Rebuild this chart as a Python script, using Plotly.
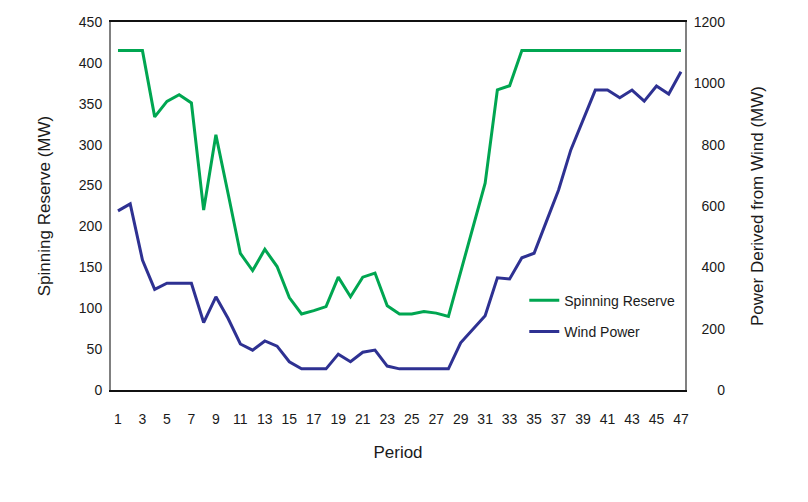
import plotly.graph_objects as go

# Period 1..47
periods = list(range(1, 48))

# Spinning reserve (MW), left axis
spinning_reserve = [
    415, 415, 415, 334, 353, 361, 351, 220, 312, 240,
    167, 146, 172, 151, 113, 93, 97, 102, 138, 114,
    138, 143, 103, 93, 93, 96, 94, 90, 145, 199,
    253, 367, 372, 415, 415, 415, 415, 415, 415, 415,
    415, 415, 415, 415, 415, 415, 415,
]

# Power derived from wind (MW), right axis
wind_power = [
    584, 607, 424, 328, 348, 348, 348, 220, 304, 233,
    150, 130, 160, 143, 92, 69, 69, 69, 117, 92,
    123, 130, 78, 69, 69, 69, 69, 69, 154, 198,
    242, 366, 362, 431, 446, 549, 652, 783, 880, 978,
    978, 953, 978, 942, 991, 965, 1038,
]

left_ticks = list(range(0, 451, 50))
right_ticks = list(range(0, 1201, 200))
period_ticks = list(range(1, 48, 2))

GREEN = '#00a651'
BLUE = '#2e3192'
FONT = 'Liberation Sans, Arial, sans-serif'

# right-align the right-hand labels with figure spaces
width = max(len(str(v)) for v in right_ticks)
right_text = ['\u2007' * (width - len(str(v))) + str(v) for v in right_ticks]

fig = go.Figure()
fig.add_trace(go.Scatter(
    x=periods, y=spinning_reserve, name='Spinning Reserve', mode='lines',
    line=dict(color=GREEN, width=3), legendgroup='a',
))
fig.add_trace(go.Scatter(
    x=periods, y=wind_power, name='Wind Power', mode='lines', yaxis='y2',
    line=dict(color=BLUE, width=3), legendgroup='b',
))

# page body adds an 8px offset, so margins are trimmed on the left/top
fig.update_layout(
    width=808, height=502,
    paper_bgcolor='white', plot_bgcolor='white',
    font=dict(family=FONT, size=14, color='#1a1a1a'),
    margin=dict(l=103, r=131, t=14, b=120),
    showlegend=True,
    legend=dict(
        x=0.72, y=0.286, xanchor='left', yanchor='top',
        bgcolor='rgba(0,0,0,0)', font=dict(size=14),
        traceorder='grouped', tracegroupgap=10,
    ),
    xaxis=dict(
        range=[0.43, 47.33], tickvals=period_ticks, showgrid=False, zeroline=False,
        showline=True, linecolor='#111111', linewidth=2, mirror=True,
        ticks='', ticklabelstandoff=15, automargin=False,
        title=dict(text='Period', standoff=20),
    ),
    yaxis=dict(
        range=[0, 450], tickvals=left_ticks, showgrid=False, zeroline=False,
        showline=True, linecolor='#808080', linewidth=2, ticks='',
        ticklabelstandoff=4, automargin=False,
        title=dict(text='Spinning Reserve (MW)', standoff=24),
    ),
    yaxis2=dict(
        range=[0, 1200], tickvals=right_ticks, ticktext=right_text,
        overlaying='y', side='right', showgrid=False, zeroline=False,
        showline=True, linecolor='#808080', linewidth=2, ticks='',
        ticklabelstandoff=4, automargin=False,
        title=dict(text='Power Derived from Wind (MW)', standoff=27),
    ),
)

fig.write_html("out.html")
